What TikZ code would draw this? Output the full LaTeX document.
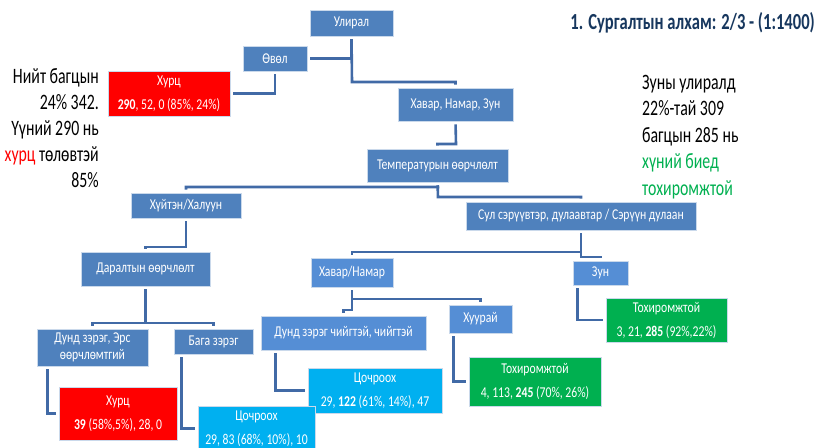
\documentclass[tikz,border=0pt]{standalone}
\usepackage{fontspec}
\setmainfont{Carlito}[FakeStretch=0.78]
\newfontfamily\notefont{Carlito}[FakeStretch=0.72]
\usepackage{color}

\definecolor{boxblue}{RGB}{79,129,189}
\definecolor{lightblue}{RGB}{85,142,213}
\definecolor{cyanbox}{RGB}{0,176,240}
\definecolor{greenbox}{RGB}{0,176,80}
\definecolor{redbox}{RGB}{255,0,0}
\definecolor{linkblue}{RGB}{65,106,166}
\definecolor{titlenavy}{RGB}{23,55,94}

\tikzset{
  block/.style={draw=white!70!boxblue, line width=0.6pt, fill=boxblue, text=white,
    font=\fontsize{15}{17}\selectfont, align=center, inner sep=0pt},
  lightblock/.style={block, fill=lightblue},
  leaf/.style={block, font=\fontsize{15}{24}\selectfont},
  link/.style={linkblue, line width=2.6pt, shorten <=3pt, shorten >=3pt},
}

\begin{document}
\begin{tikzpicture}[x=1pt,y=-1pt]
   \useasboundingbox (0,0) rectangle (816,447);
   % tree boxes
   \node[block,minimum width=83,minimum height=26] (ulir) at (351.5,23) {Улирал};
   \node[block,minimum width=64,minimum height=25] (ovol) at (275,58.5) {Өвөл};
   \node[leaf,fill=redbox,minimum width=122,minimum height=45] (hurts1) at (169,93.5) {Хурц\\\textbf{290}, 52, 0 (85\%, 24\%)};
   \node[block,minimum width=115,minimum height=33] (hnz) at (455.5,104.5) {Хавар, Намар, Зун};
   \node[block,minimum width=141,minimum height=33] (temp) at (437.5,165.5) {Температурын өөрчлөлт};
   \node[block,minimum width=110,minimum height=25] (hh) at (186,205.5) {Хүйтэн/Халуун};
   \node[block,minimum width=230,minimum height=28] (sul) at (581,216) {Сул сэрүүвтэр, дулаавтар / Сэрүүн дулаан};
   \node[block,minimum width=129,minimum height=34] (dar) at (145.5,269) {Даралтын өөрчлөлт};
   \node[lightblock,minimum width=82,minimum height=29] (hn) at (352,272.5) {Хавар/Намар};
   \node[lightblock,minimum width=55,minimum height=24] (zun) at (600.5,273) {Зун};
   \node[block,minimum width=111,minimum height=37] (dze) at (92.5,347.5) {Дунд зэрэг, Эрс\\өөрчлөмтгий};
   \node[block,minimum width=79,minimum height=25] (baga) at (213.5,341.5) {Бага зэрэг};
   \node[lightblock,minimum width=165,minimum height=34] (dzc) at (343.5,333) {Дунд зэрэг чийгтэй, чийгтэй};
   \node[lightblock,minimum width=63,minimum height=28] (huu) at (480.5,319) {Хуурай};
   \node[leaf,fill=greenbox,minimum width=121,minimum height=44] (toh1) at (666.5,320) {Тохиромжтой\\3, 21, \textbf{285} (92\%,22\%)};
   \node[leaf,fill=greenbox,minimum width=132,minimum height=49] (toh2) at (535,381.5) {Тохиромжтой\\4, 113, \textbf{245} (70\%, 26\%)};
   \node[leaf,fill=cyanbox,minimum width=134,minimum height=45] (tsoch1) at (375,390.5) {Цочроох\\29, \textbf{122} (61\%, 14\%), 47};
   \node[leaf,fill=redbox,minimum width=118,minimum height=53] (hurts2) at (118,413.5) {Хурц\\\textbf{39} (58\%,5\%), 28, 0};
   \node[leaf,fill=cyanbox,minimum width=117,minimum height=45] (tsoch2) at (256.5,428.5) {Цочроох\\29, 83 (68\%, 10\%), 10};

   % junctions
   \coordinate (j1) at (352,82);
   \coordinate (j2) at (456,144);
   \coordinate (j3) at (438,187);
   \coordinate (j4) at (438,197);
   \coordinate (j5) at (186,247);
   \coordinate (j6) at (581,252);
   \coordinate (j7) at (581,257);
   \coordinate (j8) at (145.5,323);
   \coordinate (j9) at (352,299);
   \coordinate (j10) at (352,310);

   % connectors
   \draw[link] (ulir.south) |- (ovol.east);
   \draw[link] (ulir.south) -- (j1) -| (hnz.north);
   \draw[link] (ovol.south) |- (hurts1.east);
   \draw[link] (hnz.south) -- (j2) -| (temp.north);
   \draw[link] (temp.south) -- (j3) -| (hh.north);
   \draw[link] (temp.south) -- (j4) -| (sul.north);
   \draw[link] (hh.south) -- (j5) -| (dar.north);
   \draw[link] (sul.south) -- (j6) -| (hn.north);
   \draw[link] (sul.south) -- (j7) -| (zun.north);
   \draw[link] (dar.south) -- (j8) -| (dze.north);
   \draw[link] (dar.south) -- (j8) -| (baga.north);
   \draw[link] (hn.south) -- (j10) -| (dzc.north);
   \draw[link] (hn.south) -- (j9) -| (huu.north);
   \draw[link] ([xshift=5]zun.south west) |- (toh1.west);
   \draw[link] ([xshift=5]huu.south west) |- (toh2.west);
   \draw[link] ([xshift=15]dzc.south west) |- (tsoch1.west);
   \draw[link] ([xshift=11]dze.south west) |- (hurts2.west);
   \draw[link] ([xshift=8]baga.south west) |- (tsoch2.west);

   % notes
   \node[anchor=east,font=\notefont\bfseries\fontsize{23}{26}\selectfont,text=titlenavy,inner sep=0pt] (title) at (815,23) {1. Сургалтын алхам: 2/3 - (1:1400)};
   \node[anchor=north east,align=right,font=\notefont\fontsize{22}{26}\selectfont,inner sep=0pt] (winternote) at (99,68) {Нийт багцын\\24\% 342.\\Үүний 290 нь\\{\color{redbox}хурц} төлөвтэй\\85\%};
   \node[anchor=north west,align=left,font=\notefont\fontsize{22}{26.5}\selectfont,inner sep=0pt] (summernote) at (642,75) {Зуны улиралд\\22\%-тай 309\\багцын 285 нь\\{\color{greenbox}хүний биед}\\{\color{greenbox}тохиромжтой}};
\end{tikzpicture}
\end{document}
